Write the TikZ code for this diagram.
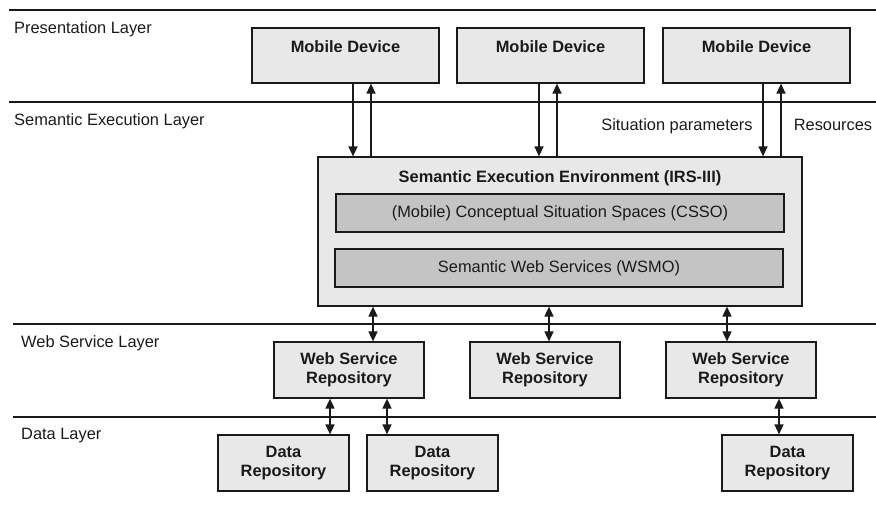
\documentclass[tikz,border=0pt]{standalone}
\usepackage{fontspec}
\setmainfont{Liberation Sans}
\usetikzlibrary{arrows.meta}
\definecolor{boxfill}{HTML}{E8E8E8}
\definecolor{innerfill}{HTML}{C4C4C4}
\definecolor{ink}{HTML}{1A1A1A}
\begin{document}
\begin{tikzpicture}[x=1pt,y=-1pt,
  every node/.style={font=\fontsize{16.4}{18.5}\selectfont, text=ink},
  box/.style={draw=ink, line width=1.2pt, fill=boxfill, inner sep=0pt, align=center},
  mobbox/.style={box, minimum width=187pt, text height=24pt, text depth=31pt, font=\fontsize{16.4}{18.5}\selectfont\bfseries},
  repbox/.style={box, minimum height=56pt, font=\fontsize{16.4}{18.5}\selectfont\bfseries},
  innerbox/.style={draw=ink, line width=1.2pt, fill=innerfill, minimum width=448pt, minimum height=38pt, inner sep=0pt},
  layerline/.style={draw=ink, line width=1.1pt},
  layerlabel/.style={anchor=base west, inner sep=0pt},
  arr/.style={draw=ink, line width=1.6pt, -{Triangle[width=9pt,length=10pt]}},
  darr/.style={draw=ink, line width=1.6pt, {Triangle[width=9pt,length=10pt]}-{Triangle[width=9pt,length=10pt]}}
]
\useasboundingbox (0,0) rectangle (876,506);

% layer lines
\draw[layerline] (9,10) -- (876,10);
\draw[layerline] (9,102) -- (876,102);
\draw[layerline] (13,324) -- (876,324);
\draw[layerline] (13,417) -- (876,417);

% layer labels
\node[layerlabel] (lp) at (14,33) {Presentation Layer};
\node[layerlabel] (ls) at (14,125) {Semantic Execution Layer};
\node[layerlabel] (lw) at (21,347) {Web Service Layer};
\node[layerlabel] (ld) at (21,439) {Data Layer};

% mobile devices
\node[mobbox] (mob1) at (345.5,55.5) {Mobile Device};
\node[mobbox] (mob2) at (550.5,55.5) {Mobile Device};
\node[mobbox] (mob3) at (756.5,55.5) {Mobile Device};

% semantic execution environment
\node[box, minimum width=484pt, text height=25pt, text depth=124pt,
      font=\fontsize{16.4}{18.5}\selectfont\bfseries] (see) at (560,231.5)
      {Semantic Execution Environment (IRS-III)};
\node[innerbox] (csso) at (560,213) {(Mobile) Conceptual Situation Spaces (CSSO)};
\node[innerbox] (wsmo) at (559,268) {Semantic Web Services (WSMO)};

% web service repositories
\node[repbox, minimum width=150pt] (wsr1) at (349,370) {Web Service\\Repository};
\node[repbox, minimum width=150pt] (wsr2) at (545,370) {Web Service\\Repository};
\node[repbox, minimum width=150pt] (wsr3) at (741,370) {Web Service\\Repository};

% data repositories
\node[repbox, minimum width=131pt] (dr1) at (283.5,463) {Data\\Repository};
\node[repbox, minimum width=131pt] (dr2) at (432.5,463) {Data\\Repository};
\node[repbox, minimum width=131pt] (dr3) at (787.5,463) {Data\\Repository};

% arrow x positions
\coordinate (d1) at (353,0);  \coordinate (u1) at (371,0);
\coordinate (d2) at (539,0);  \coordinate (u2) at (557,0);
\coordinate (d3) at (763,0);  \coordinate (u3) at (781,0);
\coordinate (w1) at (373,0);  \coordinate (w2) at (549,0);  \coordinate (w3) at (727,0);
\coordinate (r1) at (330,0);  \coordinate (r2) at (387,0);  \coordinate (r3) at (779,0);

% mobile <-> SEE
\draw[arr] (mob1.south -| d1) -- (see.north -| d1);
\draw[arr] (see.north -| u1) -- (mob1.south -| u1);
\draw[arr] (mob2.south -| d2) -- (see.north -| d2);
\draw[arr] (see.north -| u2) -- (mob2.south -| u2);
\draw[arr] (mob3.south -| d3) -- (see.north -| d3);
\draw[arr] (see.north -| u3) -- (mob3.south -| u3);

\node[anchor=base] (sitp) at (677,130) {Situation parameters};
\node[anchor=base] (res) at (833,130) {Resources};

% SEE <-> WSR
\draw[darr] (see.south -| w1) -- (wsr1.north -| w1);
\draw[darr] (see.south -| w2) -- (wsr2.north -| w2);
\draw[darr] (see.south -| w3) -- (wsr3.north -| w3);

% WSR <-> DR
\draw[darr] (wsr1.south -| r1) -- (dr1.north -| r1);
\draw[darr] (wsr1.south -| r2) -- (dr2.north -| r2);
\draw[darr] (wsr3.south -| r3) -- (dr3.north -| r3);
\end{tikzpicture}
\end{document}
